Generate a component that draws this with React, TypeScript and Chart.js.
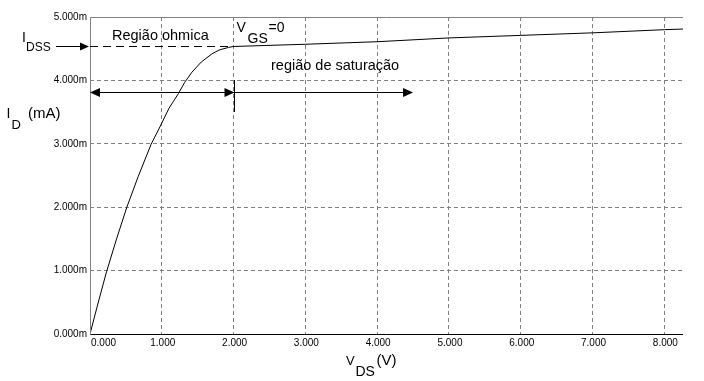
import React, { useEffect, useRef } from "react";
import { Chart, registerables } from "chart.js";

Chart.register(...registerables);

// V_DS (V) sample points of the curve
const vds = [0, 0.12, 0.23, 0.37, 0.51, 0.67, 0.85, 0.98, 1.1, 1.23, 1.32, 1.42, 1.55, 1.7, 1.8, 1.93, 2.0, 3.0, 4.0, 5.0, 6.0, 7.0, 8.0, 8.26];
// I_D (mA) at those points
const idmA = [0, 0.52, 0.98, 1.5, 1.99, 2.48, 2.99, 3.28, 3.56, 3.79, 3.97, 4.13, 4.29, 4.42, 4.48, 4.52, 4.535, 4.57, 4.61, 4.67, 4.71, 4.75, 4.8, 4.81];

const xTicks = [0, 1, 2, 3, 4, 5, 6, 7, 8];
const xTickLabels = ["0.000", "1.000", "2.000", "3.000", "4.000", "5.000", "6.000", "7.000", "8.000"];
const yTicks = [0, 1, 2, 3, 4, 5];
const yTickLabels = ["0.000m", "1.000m", "2.000m", "3.000m", "4.000m", "5.000m"];

const X_MIN = 0;
const X_MAX = 8.26;
const Y_MIN = 0;
const Y_MAX = 5;

// annotation values (in data units)
const IDSS = 4.535;
const V_PINCH = 2.0;
const REGION_ARROW_I = 3.81;
const SAT_ARROW_END_V = 4.5;
const DIVIDER_TOP_I = 4.0;
const DIVIDER_BOTTOM_I = 3.5;

const FONT = "'Liberation Sans', Arial, sans-serif";

function head(ctx: CanvasRenderingContext2D, tipX: number, y: number, dir: number, len = 9, half = 4) {
  ctx.beginPath();
  ctx.moveTo(tipX, y);
  ctx.lineTo(tipX - dir * len, y - half);
  ctx.lineTo(tipX - dir * len, y + half);
  ctx.closePath();
  ctx.fill();
}

const overlayPlugin = {
  id: "overlay",
  afterDraw(chart: any) {
    const ctx: CanvasRenderingContext2D = chart.ctx;
    const xs = chart.scales.x;
    const ys = chart.scales.y;
    const { left, right, top, bottom } = chart.chartArea;
    const px = (v: number) => xs.getPixelForValue(v);
    const py = (v: number) => ys.getPixelForValue(v);
    const r = (p: number) => Math.round(p) + 0.5;

    ctx.save();
    ctx.lineWidth = 1;
    ctx.setLineDash([]);
    // frame
    ctx.strokeStyle = "#808080";
    ctx.beginPath();
    ctx.moveTo(r(left), r(top));
    ctx.lineTo(r(left), r(bottom));
    ctx.moveTo(r(left), r(top));
    ctx.lineTo(Math.round(right), r(top));
    ctx.stroke();
    ctx.strokeStyle = "#000";
    ctx.beginPath();
    ctx.moveTo(r(left), r(bottom));
    ctx.lineTo(Math.round(right), r(bottom));
    ctx.stroke();

    // tick labels
    ctx.fillStyle = "#000";
    ctx.font = `10px ${FONT}`;
    ctx.textBaseline = "top";
    xTicks.forEach((v, i) => {
      const x = px(v);
      ctx.textAlign = i === 0 ? "left" : "center";
      ctx.fillText(xTickLabels[i], x + 1, bottom + 4);
    });
    ctx.textAlign = "right";
    ctx.textBaseline = "middle";
    yTicks.forEach((v, i) => {
      ctx.fillText(yTickLabels[i], left - 3, py(v));
    });

    // IDSS dashed line and arrow
    const yI = r(py(IDSS));
    ctx.strokeStyle = "#000";
    ctx.setLineDash([8, 5]);
    ctx.beginPath();
    ctx.moveTo(px(0), yI);
    ctx.lineTo(px(V_PINCH), yI);
    ctx.stroke();
    ctx.setLineDash([]);
    ctx.beginPath();
    ctx.moveTo(56, yI);
    ctx.lineTo(left - 2, yI);
    ctx.stroke();
    head(ctx, left - 1, yI, 1);

    // region arrows
    const yA = r(py(REGION_ARROW_I));
    const xP = r(px(V_PINCH));
    ctx.beginPath();
    ctx.moveTo(px(0) + 2, yA);
    ctx.lineTo(px(SAT_ARROW_END_V) - 2, yA);
    ctx.stroke();
    head(ctx, px(0), yA, -1, 10, 4.5);
    head(ctx, xP, yA, 1, 10, 4.5);
    head(ctx, px(SAT_ARROW_END_V), yA, 1, 10, 4.5);
    ctx.beginPath();
    ctx.moveTo(xP, Math.round(py(DIVIDER_TOP_I)));
    ctx.lineTo(xP, Math.round(py(DIVIDER_BOTTOM_I)));
    ctx.stroke();

    // texts
    ctx.textAlign = "left";
    ctx.textBaseline = "alphabetic";
    ctx.fillStyle = "#000";
    ctx.font = `14.5px ${FONT}`;
    ctx.fillText("Região ohmica", 112, 39.5);
    ctx.fillText("região de saturação", 271, 70);
    ctx.font = `14px ${FONT}`;
    ctx.fillText("V", 236.5, 31.5);
    ctx.fillText("GS", 247.5, 43);
    ctx.fillText("=0", 268.5, 31.5);

    ctx.fillText("I", 22, 42);
    ctx.font = `12px ${FONT}`;
    ctx.fillText("DSS", 26, 50.5);

    ctx.font = `14px ${FONT}`;
    ctx.fillText("I", 6.5, 118);
    ctx.font = `13px ${FONT}`;
    ctx.fillText("D", 11.5, 128.5);
    ctx.font = `15px ${FONT}`;
    ctx.fillText("(mA)", 28, 117.5);

    ctx.font = `13px ${FONT}`;
    ctx.fillText("V", 346, 365);
    ctx.font = `14px ${FONT}`;
    ctx.fillText("DS", 355.5, 375.5);
    ctx.font = `15px ${FONT}`;
    ctx.fillText("(V)", 376.5, 365);

    ctx.restore();
  },
};

export default function App() {
  const ref = useRef<HTMLCanvasElement | null>(null);

  useEffect(() => {
    if (!ref.current) return;
    const chart = new Chart(ref.current, {
      type: "line",
      data: {
        datasets: [
          {
            data: vds.map((v, i) => ({ x: v, y: idmA[i] })),
            borderColor: "#000",
            borderWidth: 1,
            pointRadius: 0,
            tension: 0,
            fill: false,
          },
        ],
      },
      options: {
        animation: false,
        responsive: false,
        devicePixelRatio: 1,
        layout: { padding: { left: 90, top: 17, right: 21, bottom: 47 } },
        plugins: { legend: { display: false }, tooltip: { enabled: false } },
        events: [],
        scales: {
          x: {
            type: "linear",
            min: X_MIN,
            max: X_MAX,
            afterBuildTicks: (s: any) => {
              s.ticks = xTicks.map((v) => ({ value: v }));
            },
            afterFit: (s: any) => {
              s.height = 0;
            },
            ticks: { display: false },
            grid: {
              drawTicks: false,
              lineWidth: 1,
              color: (c: any) => (c.tick && c.tick.value === 0 ? "rgba(0,0,0,0)" : "#808080"),
            },
            border: { display: false, dash: [4, 3] },
          },
          y: {
            type: "linear",
            min: Y_MIN,
            max: Y_MAX,
            afterBuildTicks: (s: any) => {
              s.ticks = yTicks.map((v) => ({ value: v }));
            },
            afterFit: (s: any) => {
              s.width = 0;
            },
            ticks: { display: false },
            grid: {
              drawTicks: false,
              lineWidth: 1,
              color: (c: any) =>
                c.tick && (c.tick.value === 0 || c.tick.value === 5) ? "rgba(0,0,0,0)" : "#808080",
            },
            border: { display: false, dash: [4, 3] },
          },
        },
      } as any,
      plugins: [overlayPlugin],
    });
    return () => chart.destroy();
  }, []);

  return (
    <div style={{ position: "fixed", left: 0, top: 0, width: 704, height: 381, background: "#fff" }}>
      <canvas ref={ref} width={704} height={381} style={{ display: "block", width: 704, height: 381 }} />
    </div>
  );
}
